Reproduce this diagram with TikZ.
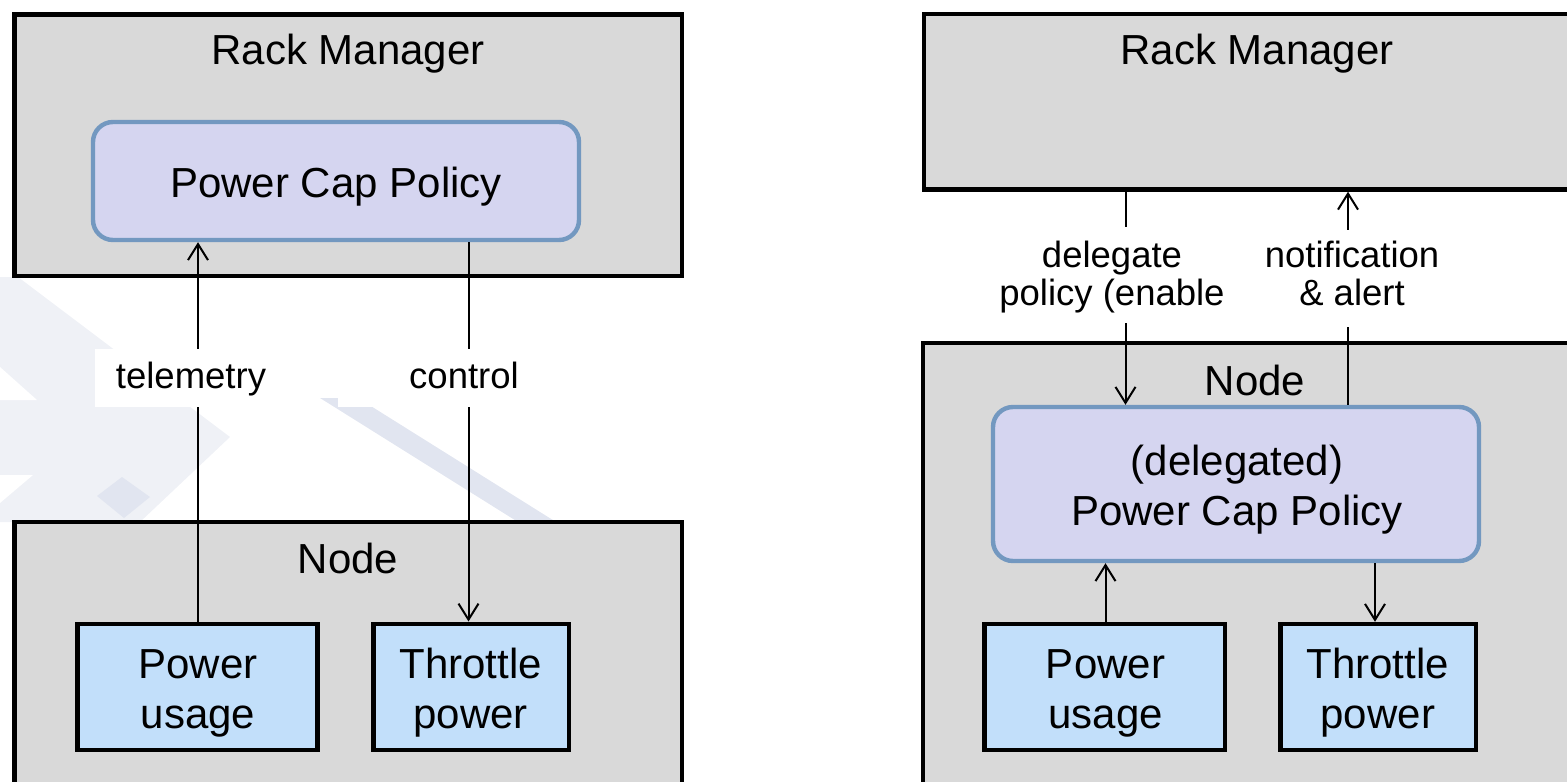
\documentclass[tikz,border=0pt]{standalone}
\usepackage{fontspec}
\setmainfont{Liberation Sans}
\usetikzlibrary{arrows.meta,fit}
\definecolor{boxgray}{HTML}{D9D9D9}
\definecolor{policyfill}{HTML}{D5D5F0}
\definecolor{policyedge}{HTML}{7398C0}
\definecolor{partfill}{HTML}{C2DFFA}
\definecolor{wmlight}{HTML}{EFF1F6}
\definecolor{wmdark}{HTML}{E1E5F0}
\begin{document}
\begin{tikzpicture}[x=0.5pt,y=-0.5pt,
  frame/.style={draw=black, line width=2.2pt, fill=boxgray, inner sep=0pt, rectangle},
  policy/.style={draw=policyedge, line width=2.2pt, fill=policyfill, rounded corners=10pt, inner sep=0pt},
  part/.style={draw=black, line width=2.2pt, fill=partfill, inner sep=0pt},
  big/.style={font=\fontsize{21}{25}\selectfont, align=center, anchor=base, inner sep=0pt},
  small/.style={font=\fontsize{18.25}{19}\selectfont, align=center, anchor=base, inner sep=0pt},
  lblbg/.style={fill=white, draw=none, inner sep=0pt},
  conn/.style={line width=1pt, -{Straight Barb[length=8pt,width=10pt,line width=1pt]}},
]
\useasboundingbox (0,0) rectangle (1567,781);

% faint background artwork
\fill[wmlight] (0,277) -- (18,277) -- (230,437) -- (140,522) -- (0,522) -- cycle;
\fill[white] (0,367) -- (37,400) -- (0,400) -- cycle;
\fill[white] (0,475) -- (33,475) -- (0,503) -- cycle;
\fill[wmdark] (97,496) -- (122,477) -- (150,497) -- (124,518) -- cycle;
\fill[wmdark] (320,398) -- (358,398) -- (556,522) -- (518,522) -- cycle;

% ---------- left: policy held by the rack manager ----------
\node[frame, fit={(14.5,14.5) (682,276)}] (rm1) {};
\node[frame, fit={(14.5,522) (682,810)}] (nd1) {};
\node[policy, fit={(93,122) (579,240)}] (pcp1) {};
\node[part, fit={(77.5,623.7) (317.5,750)}] (pu1) {};
\node[part, fit={(373.5,623.7) (569,750)}] (th1) {};

\coordinate (tx) at (198,0);
\coordinate (cx) at (468.5,0);
\draw[conn] (tx |- pu1.north) -- (tx |- pcp1.south);
\draw[conn] (cx |- pcp1.south) -- (cx |- th1.north);

\node[lblbg, fit={(94.5,349) (310,407)}] (telbg) {};
\node[lblbg, fit={(338,349) (598,407)}] (ctlbg) {};

\node[big] (rm1t) at (348,65) {Rack Manager};
\node[big] (pcp1t) at (336,197) {Power Cap Policy};
\node[big] (nd1t) at (348,573) {Node};
\node[big] (pu1t) at (198,728) {Power\\usage};
\node[big] (th1t) at (470.7,728) {Throttle\\power};
\node[small] (tel) at (191,388) {telemetry};
\node[small] (ctl) at (464,388) {control};

% ---------- right: policy delegated to the node ----------
\node[frame, fit={(924,14) (1600,189.5)}] (rm2) {};
\node[frame, fit={(923,343) (1600,810)}] (nd2) {};
\node[policy, fit={(993,407) (1479,561)}] (pcp2) {};
\node[part, fit={(984.5,624) (1224.7,750)}] (pu2) {};
\node[part, fit={(1280.5,624) (1476,750)}] (th2) {};

\coordinate (dx) at (1125.5,0);
\coordinate (nx) at (1348,0);
\coordinate (ux) at (1105.5,0);
\coordinate (wx) at (1375,0);
\draw[conn] (dx |- rm2.south) -- (dx |- pcp2.north);
\draw[conn] (nx |- pcp2.north) -- (nx |- rm2.south);
\draw[conn] (ux |- pu2.north) -- (ux |- pcp2.south);
\draw[conn] (wx |- pcp2.south) -- (wx |- th2.north);

\node[lblbg, fit={(990,227) (1232,323)}] (dlgbg) {};
\node[lblbg, fit={(1255,230) (1450,327)}] (ntfbg) {};

\node[big] (rm2t) at (1257,65) {Rack Manager};
\node[big] (nd2t) at (1255,395) {Node};
\node[big] (pcp2t) at (1237,525) {(delegated)\\Power Cap Policy};
\node[big] (pu2t) at (1105.5,728) {Power\\usage};
\node[big] (th2t) at (1377.8,728) {Throttle\\power};
\node[small] (dlg) at (1112,305) {delegate\\policy (enable};
\node[small] (ntf) at (1352,305) {notification\\\& alert};
\end{tikzpicture}
\end{document}
